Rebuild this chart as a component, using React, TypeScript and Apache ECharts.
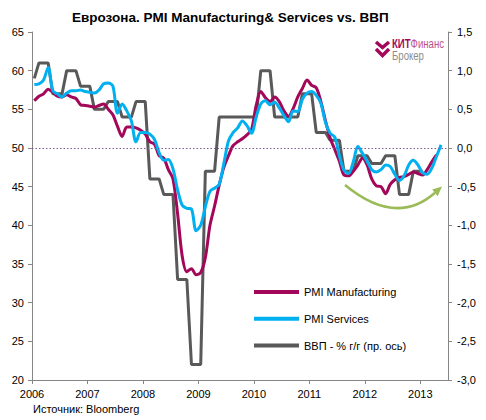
import React, { useEffect, useRef } from "react";
import * as echarts from "echarts";

const yearLabels = ["2006", "2007", "2008", "2009", "2010", "2011", "2012", "2013"];

// PMI Manufacturing, monthly
const pmiManufacturing = [
  56.1, 56.7, 57.0, 57.6, 57.2, 56.7, 56.6, 56.9, 56.6, 56.4, 55.6, 55.5,
  55.4, 55.3, 55.5, 55.7, 55.0, 54.3, 52.8, 51.5, 52.7, 52.7, 52.6, 52.3,
  51.8, 50.8, 50.5, 49.0, 48.7, 47.2, 46.0, 41.5, 36.0, 34.0, 34.4, 33.6,
  33.9, 35.8, 40.0, 42.5, 45.2, 47.5, 49.0, 50.3, 50.8, 51.2, 51.7, 52.4,
  55.5, 57.3, 56.5, 56.0, 56.6, 56.0, 54.8, 54.1, 55.1, 56.6, 57.7, 58.8,
  58.1, 57.8, 56.0, 53.5, 51.3, 49.8, 48.3, 46.5, 46.4, 47.0, 47.8, 48.7,
  47.8, 46.0, 45.1, 45.0, 44.1, 45.3, 45.9, 46.2, 46.3, 46.6, 46.9, 46.7,
  46.5, 47.2, 48.2, 49.1,
];

// PMI Services, monthly
const pmiServices = [
  58.2, 58.3, 58.8, 60.4, 57.4, 57.0, 56.6, 57.1, 57.4, 57.4, 57.5, 57.3,
  57.2, 57.1, 57.5, 58.3, 58.4, 58.0, 54.5, 55.7, 54.8, 53.5, 50.8, 52.0,
  52.0, 51.8, 51.1, 49.4, 48.4, 48.5, 47.3, 44.6, 42.6, 42.2, 42.1, 39.3,
  40.0, 42.4, 44.4, 44.8, 45.3, 48.0, 50.9, 52.0, 52.6, 53.5, 52.9, 51.9,
  54.0, 55.7, 56.1, 55.6, 55.9, 55.2, 54.2, 53.4, 54.8, 54.7, 56.3, 57.1,
  57.3, 56.8, 55.8, 53.3, 51.9, 51.4, 49.0, 47.1, 46.7, 48.2, 50.2, 49.3,
  48.3, 47.2, 46.9, 47.2, 47.8, 47.6, 46.6, 45.8, 46.4, 47.8, 48.4, 47.8,
  46.8, 46.6, 47.4, 48.9, 50.4,
];

// ВВП, % г/г (right axis), monthly (quarterly value held for the quarter)
const gdpYoY = [
  0.9,
  1.1, 1.1, 1.1, 0.7, 0.7, 0.7, 1.0, 1.0, 1.0, 0.8, 0.8, 0.8,
  0.5, 0.5, 0.5, 0.6, 0.6, 0.6, 0.4, 0.4, 0.4, 0.6, 0.6, 0.6,
  -0.4, -0.4, -0.4, -0.6, -0.6, -0.6, -1.7, -1.7, -1.7, -2.8, -2.8, -2.8,
  -0.3, -0.3, -0.3, 0.4, 0.4, 0.4, 0.4, 0.4, 0.4, 0.4, 0.4, 0.4,
  1.0, 1.0, 1.0, 0.4, 0.4, 0.4, 0.4, 0.4, 0.4, 0.7, 0.7, 0.7,
  0.2, 0.2, 0.2, 0.1, 0.1, 0.1, -0.3, -0.3, -0.3, -0.1, -0.1, -0.1,
  -0.2, -0.2, -0.2, -0.1, -0.1, -0.1, -0.6, -0.6, -0.6, -0.3, -0.3, -0.3,
];

const seriesNames = ["PMI Manufacturing", "PMI Services", "ВВП - % г/г (пр. ось)"];
const FONT = "'Liberation Sans', Arial, sans-serif";
const MAGENTA = "#A3075A";
const CYAN = "#00B0F0";
const GRAY = "#595959";
const AXIS = "#868686";

const toPoints = (arr: number[]) => arr.map((v, i) => [i + 0.5, v]);

export default function App() {
  const ref = useRef<HTMLDivElement>(null);
  useEffect(() => {
    document.body.style.margin = "0";
    if (!ref.current) return;
    const chart = echarts.init(ref.current, null, { renderer: "svg" });
    const ex = 435, ey = 192.7;
    chart.setOption({
      animation: false,
      backgroundColor: "#ffffff",
      textStyle: { fontFamily: FONT },
      title: {
        text: "Еврозона. PMI Manufacturing& Services vs. ВВП",
        left: 72,
        top: 10,
        padding: 0,
        textStyle: { fontFamily: FONT, fontSize: 13.5, fontWeight: "bold", color: "#000" },
      },
      grid: { left: 32, right: 38, top: 32, bottom: 40 },
      legend: {
        orient: "vertical",
        left: 254,
        top: 285,
        padding: 0,
        itemWidth: 45,
        itemHeight: 4,
        itemGap: 12.8,
        icon: "rect",
        data: seriesNames,
        textStyle: { fontFamily: FONT, fontSize: 11, color: "#000", lineHeight: 14, padding: [0, 0, 0, 0] },
      },
      xAxis: {
        type: "value",
        min: 0,
        max: 90,
        interval: 12,
        axisLine: { onZero: false, lineStyle: { color: AXIS, width: 1 } },
        axisTick: { show: true, length: 4, lineStyle: { color: AXIS } },
        splitLine: { show: false },
        axisLabel: {
          showMaxLabel: false,
          margin: 8,
          fontFamily: FONT,
          fontSize: 11,
          color: "#000",
          formatter: (v: number) => (v % 12 === 0 ? yearLabels[v / 12] ?? "" : ""),
        },
      },
      yAxis: [
        {
          type: "value",
          min: 20,
          max: 65,
          interval: 5,
          axisLine: { show: true, lineStyle: { color: AXIS, width: 1 } },
          axisTick: { show: true, length: 4, lineStyle: { color: AXIS } },
          splitLine: { show: false },
          axisLabel: { margin: 8, fontFamily: FONT, fontSize: 11, color: "#000" },
        },
        {
          type: "value",
          min: -3,
          max: 1.5,
          interval: 0.5,
          position: "right",
          axisLine: { show: true, lineStyle: { color: AXIS, width: 1 } },
          axisTick: { show: true, length: 4, lineStyle: { color: AXIS } },
          splitLine: { show: false },
          axisLabel: {
            margin: 9,
            fontFamily: FONT,
            fontSize: 11,
            color: "#000",
            formatter: (v: number) => v.toFixed(1).replace(".", ","),
          },
        },
      ],
      series: [
        {
          name: seriesNames[2],
          type: "line",
          yAxisIndex: 1,
          data: toPoints(gdpYoY),
          showSymbol: false,
          symbol: "none",
          lineStyle: { color: GRAY, width: 3 },
          itemStyle: { color: GRAY },
          z: 2,
          markLine: {
            silent: true,
            symbol: "none",
            label: { show: false },
            lineStyle: { color: "#7A5C96", type: [1.5, 2], width: 1 },
            data: [{ yAxis: 0 }],
          },
        },
        {
          name: seriesNames[0],
          type: "line",
          data: toPoints(pmiManufacturing),
          showSymbol: false,
          symbol: "none",
          smooth: 0.3,
          lineStyle: { color: MAGENTA, width: 3 },
          itemStyle: { color: MAGENTA },
          z: 3,
        },
        {
          name: seriesNames[1],
          type: "line",
          data: toPoints(pmiServices),
          showSymbol: false,
          symbol: "none",
          smooth: 0.3,
          lineStyle: { color: CYAN, width: 3 },
          itemStyle: { color: CYAN },
          z: 4,
        },
      ],
      graphic: [
        {
          type: "text",
          left: 33,
          top: 403,
          style: { text: "Источник: Bloomberg", font: `11px ${FONT}`, fill: "#000" },
        },
        {
          type: "bezierCurve",
          shape: { x1: 345, y1: 185, x2: ex, y2: ey, cpx1: 396, cpy1: 227 },
          style: { stroke: "#9BBB59", lineWidth: 2.5, fill: null },
          z: 10,
        },
        {
          type: "polygon",
          shape: { points: [[442, 186.5], [437.6, 196.2], [432.2, 189.6]] },
          style: { fill: "#9BBB59" },
          z: 10,
        },
        {
          type: "polyline",
          shape: { points: [[376, 42], [382.5, 47.5], [389, 42]] },
          style: { stroke: MAGENTA, lineWidth: 3.5, fill: null },
        },
        {
          type: "polyline",
          shape: { points: [[376, 49], [382.5, 55.5], [389, 49]] },
          style: { stroke: MAGENTA, lineWidth: 3.5, fill: null },
        },
        {
          type: "text",
          x: 392,
          y: 38,
          scaleX: 0.8,
          style: {
            text: "{a|КИТ}{b|Финанс}",
            verticalAlign: "top",
            rich: {
              a: { fontFamily: FONT, fontSize: 12, fontWeight: "bold", fill: MAGENTA, color: MAGENTA },
              b: { fontFamily: FONT, fontSize: 12, fill: "#C0508A", color: "#C0508A" },
            },
          },
        },
        {
          type: "text",
          x: 392,
          y: 49.5,
          scaleX: 0.8,
          style: { text: "Брокер", verticalAlign: "top", font: `12px ${FONT}`, fill: "#8C8C8C" },
        },
      ],
    });
    return () => chart.dispose();
  }, []);
  return <div ref={ref} style={{ width: 486, height: 420 }} />;
}
